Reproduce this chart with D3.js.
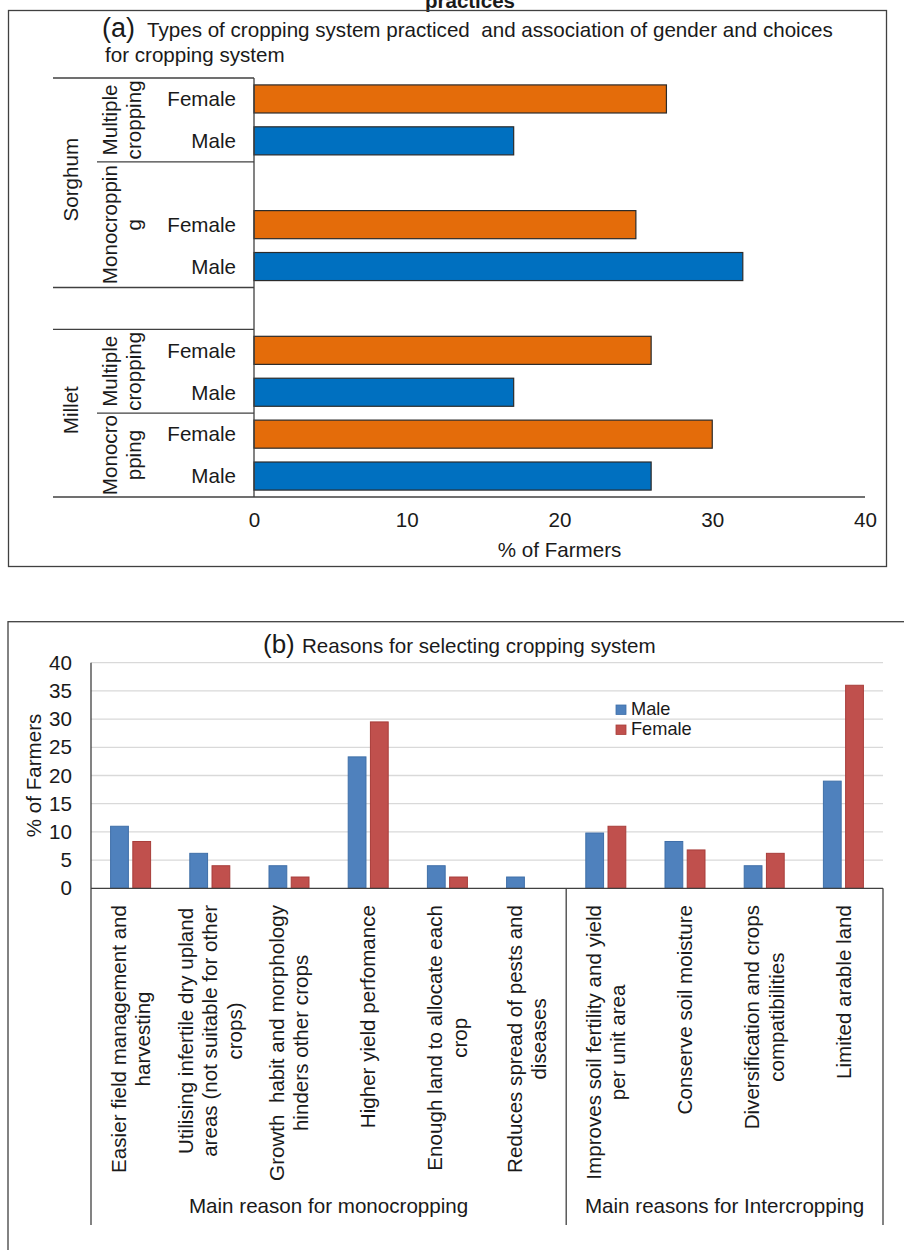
<!DOCTYPE html>
<html>
<head>
<meta charset="utf-8">
<script src="https://cdn.jsdelivr.net/npm/d3@7"></script>
<style>
  html, body { margin: 0; padding: 0; background: #fff; }
  svg { display: block; font-family: "Liberation Sans", Arial, sans-serif; }
  text { white-space: pre; }
</style>
</head>
<body>
<svg id="chart" width="904" height="1250"></svg>
<script>
// ---------------- Panel (a) data ----------------
const rowKeys      = ["S-MC-F", "S-MC-M", "S-MO-blank", "S-MO-F", "S-MO-M", "gap", "M-MC-F", "M-MC-M", "M-MO-F", "M-MO-M"];
const genderLabels = ["Female", "Male", "", "Female", "Male", "", "Female", "Male", "Female", "Male"];
const genderOfRow  = ["F", "M", null, "F", "M", null, "F", "M", "F", "M"];
const valuesA      = [27, 17, null, 25, 32, null, 26, 17, 30, 26];
const subGroupLabels = [["Multiple", "cropping"], ["Monocroppin", "g"], ["Multiple", "cropping"], ["Monocro", "pping"]];
const subGroupStart  = [0, 2, 6, 8];
const subGroupEnd    = [2, 5, 8, 10];
const cropLabels = ["Sorghum", "Millet"];
const cropStart  = [0, 6];
const cropEnd    = [5, 10];
const xTicksA = [0, 10, 20, 30, 40];

// ---------------- Panel (b) data ----------------
const reasons = [
  ["Easier field management and", "harvesting"],
  ["Utilising infertile dry upland", "areas (not suitable for other", "crops)"],
  ["Growth  habit and morphology", "hinders other crops"],
  ["Higher yield perfomance"],
  ["Enough land to allocate each", "crop"],
  ["Reduces spread of pests and", "diseases"],
  ["Improves soil fertility and yield", "per unit area"],
  ["Conserve soil moisture"],
  ["Diversification and crops", "compatibilities"],
  ["Limited arable land"]
];
const maleB   = [11, 6.2, 4, 23.3, 4, 2, 9.8, 8.3, 4, 19];
const femaleB = [8.3, 4, 2, 29.5, 2, 0, 11, 6.8, 6.2, 36];
const seriesB = ["Male", "Female"];
const reasonGroups = ["Main reason for monocropping", "Main reasons for Intercropping"];
const reasonGroupStart = [0, 6];
const reasonGroupEnd   = [6, 10];
const yTicksB = [0, 5, 10, 15, 20, 25, 30, 35, 40];

const svg = d3.select("#chart");
const FS = 20.6;
const TXT = "#1a1a1a";
const LINE = "#404040";

// ================= PANEL (a) =================
const gA = svg.append("g");
// bold heading above (cut off by the top edge in the source figure)
gA.append("text").attr("x", 470).attr("y", 8).attr("text-anchor", "middle")
  .attr("font-weight", "bold").attr("font-size", 20.5).attr("fill", TXT).text("practices");
// frame
gA.append("rect").attr("x", 8.5).attr("y", 10.5).attr("width", 878).attr("height", 556)
  .attr("fill", "none").attr("stroke", LINE).attr("stroke-width", 1.3);
// title
const tA = gA.append("text").attr("x", 102).attr("y", 37).attr("fill", TXT);
tA.append("tspan").attr("font-size", 27).text("(a)");
tA.append("tspan").attr("x", 147).attr("font-size", FS).text("Types of cropping system practiced  and association of gender and choices");
gA.append("text").attr("x", 105).attr("y", 62).attr("font-size", FS).attr("fill", TXT).text("for cropping system");

const xA = d3.scaleLinear().domain([0, 40]).range([254, 865]);
const yA = d3.scaleBand().domain(rowKeys).range([78, 497]).paddingInner(0.33).paddingOuter(0.165);
const step = yA.step();
const rowTop = i => yA(rowKeys[0]) - yA.paddingOuter() * step + i * step;
const tableLeft = 53, subLeft = 97;

// bars
const colorA = { F: "#E46C0A", M: "#0070C0" };
gA.append("g").selectAll("rect")
  .data(rowKeys.map((k, i) => ({ k, v: valuesA[i], g: genderOfRow[i] })).filter(d => d.v != null))
  .join("rect")
  .attr("x", xA(0)).attr("y", d => yA(d.k))
  .attr("width", d => xA(d.v) - xA(0)).attr("height", yA.bandwidth())
  .attr("fill", d => colorA[d.g]).attr("stroke", "#2b2b2b").attr("stroke-width", 1.2);

// x axis
const axA = gA.append("g").attr("transform", "translate(0,497)")
  .call(d3.axisBottom(xA).tickValues(xTicksA).tickSize(0).tickPadding(15).tickSizeOuter(0));
axA.select(".domain").remove();
axA.selectAll("text").attr("font-size", FS).attr("fill", TXT).attr("font-family", "Liberation Sans, Arial, sans-serif");
gA.append("text").attr("x", (xA(0) + xA(40)) / 2).attr("y", 557).attr("text-anchor", "middle")
  .attr("font-size", FS).attr("fill", TXT).text("% of Farmers");

// category table lines
const lines = gA.append("g").attr("stroke", LINE).attr("stroke-width", 1.3);
lines.append("line").attr("x1", tableLeft).attr("x2", xA(40)).attr("y1", rowTop(10)).attr("y2", rowTop(10));
lines.append("line").attr("x1", xA(0)).attr("x2", xA(0)).attr("y1", rowTop(0)).attr("y2", rowTop(10));
[0, 5, 6].forEach(i => lines.append("line").attr("x1", tableLeft).attr("x2", xA(0)).attr("y1", rowTop(i)).attr("y2", rowTop(i)));
[2, 8].forEach(i => lines.append("line").attr("x1", subLeft).attr("x2", xA(0)).attr("y1", rowTop(i)).attr("y2", rowTop(i)));

// gender labels
gA.append("g").selectAll("text").data(rowKeys.map((k, i) => ({ k, t: genderLabels[i] })).filter(d => d.t))
  .join("text").attr("x", 236).attr("y", d => yA(d.k) + yA.bandwidth() / 2 + 7.3)
  .attr("text-anchor", "end").attr("font-size", FS).attr("fill", TXT).text(d => d.t);

// sub-group labels (rotated)
subGroupLabels.forEach((lbls, gi) => {
  const cy = (rowTop(subGroupStart[gi]) + rowTop(subGroupEnd[gi])) / 2;
  lbls.forEach((t, j) => {
    gA.append("text").attr("transform", `translate(${117 + j * 23.5},${cy}) rotate(-90)`)
      .attr("text-anchor", "middle").attr("font-size", FS).attr("fill", TXT).text(t);
  });
});
// crop labels
cropLabels.forEach((t, gi) => {
  const cy = (rowTop(cropStart[gi]) + rowTop(cropEnd[gi])) / 2 - 3;
  gA.append("text").attr("transform", `translate(78,${cy}) rotate(-90)`)
    .attr("text-anchor", "middle").attr("font-size", FS).attr("fill", TXT).text(t);
});

// ================= PANEL (b) =================
const gB = svg.append("g");
gB.append("rect").attr("x", 8).attr("y", 621.7).attr("width", 1000).attr("height", 800)
  .attr("fill", "none").attr("stroke", LINE).attr("stroke-width", 1.3);

const xB = d3.scaleBand().domain(d3.range(reasons.length)).range([91, 883]).padding(0);
const xSub = d3.scaleBand().domain(seriesB).range([-20, 20]).paddingInner(0.2).paddingOuter(0);
const yB = d3.scaleLinear().domain([0, 40]).range([888.3, 662.7]);

// title
const tB = gB.append("text").attr("x", 263).attr("y", 653).attr("fill", TXT);
tB.append("tspan").attr("font-size", 26).text("(b)");
tB.append("tspan").attr("x", 302).attr("font-size", FS).text("Reasons for selecting cropping system");

// gridlines
gB.append("g").selectAll("line").data(yTicksB.filter(d => d > 0)).join("line")
  .attr("x1", 91).attr("x2", 883).attr("y1", d => yB(d)).attr("y2", d => yB(d))
  .attr("stroke", "#d9d9d9").attr("stroke-width", 1.3);

// y axis
const axB = gB.append("g").attr("transform", "translate(91,0)")
  .call(d3.axisLeft(yB).tickValues(yTicksB).tickSize(0).tickPadding(19).tickSizeOuter(0));
axB.select(".domain").remove();
axB.selectAll("text").attr("font-size", FS).attr("fill", TXT).attr("font-family", "Liberation Sans, Arial, sans-serif");
gB.append("text").attr("transform", `translate(41,${(yB(0) + yB(40)) / 2}) rotate(-90)`)
  .attr("text-anchor", "middle").attr("font-size", FS).attr("fill", TXT).text("% of Farmers");

// bars
const colorB = { Male: "#4F81BD", Female: "#C0504D" };
const strokeB = { Male: "#3f6fa8", Female: "#a83d3a" };
const barData = [];
reasons.forEach((r, i) => {
  barData.push({ i, s: "Male", v: maleB[i] });
  barData.push({ i, s: "Female", v: femaleB[i] });
});
gB.append("g").selectAll("rect").data(barData.filter(d => d.v > 0)).join("rect")
  .attr("x", d => xB(d.i) + xB.bandwidth() / 2 + xSub(d.s))
  .attr("width", xSub.bandwidth())
  .attr("y", d => yB(d.v)).attr("height", d => yB(0) - yB(d.v))
  .attr("fill", d => colorB[d.s]).attr("stroke", d => strokeB[d.s]).attr("stroke-width", 1);

// axis lines
const lb = gB.append("g").attr("stroke", LINE).attr("stroke-width", 1.3);
lb.append("line").attr("x1", 91).attr("x2", 883).attr("y1", yB(0)).attr("y2", yB(0));
lb.append("line").attr("x1", 91).attr("x2", 91).attr("y1", yB(40)).attr("y2", 1225);
reasonGroupEnd.forEach(e => {
  const x = xB(e - 1) + xB.bandwidth();
  lb.append("line").attr("x1", x).attr("x2", x).attr("y1", yB(0)).attr("y2", 1225);
});

// rotated category labels
reasons.forEach((lbls, i) => {
  const cx = xB(i) + xB.bandwidth() / 2;
  const n = lbls.length;
  const g = gB.append("g");
  const texts = lbls.map((t, j) => g.append("text")
    .attr("text-anchor", "middle").attr("font-size", FS).attr("fill", TXT).text(t));
  const maxLen = d3.max(texts, t => t.node().getComputedTextLength());
  const cy = 905 + maxLen / 2;
  texts.forEach((t, j) => {
    const bx = cx + (j - (n - 1) / 2) * 24.5 + 7.2;
    t.attr("transform", `translate(${bx},${cy}) rotate(-90)`);
  });
});

// group labels
reasonGroups.forEach((t, gi) => {
  const x0 = xB(reasonGroupStart[gi]);
  const x1 = xB(reasonGroupEnd[gi] - 1) + xB.bandwidth();
  gB.append("text").attr("x", (x0 + x1) / 2).attr("y", 1213).attr("text-anchor", "middle")
    .attr("font-size", FS).attr("fill", TXT).text(t);
});

// legend
const lg = gB.append("g");
seriesB.forEach((s, i) => {
  lg.append("rect").attr("x", 616).attr("y", 705 + i * 20).attr("width", 10).attr("height", 9.5)
    .attr("fill", colorB[s]).attr("stroke", strokeB[s]).attr("stroke-width", 0.8);
  lg.append("text").attr("x", 631).attr("y", 714.5 + i * 20).attr("font-size", 18.2)
    .attr("fill", TXT).text(s);
});
</script>
</body>
</html>
